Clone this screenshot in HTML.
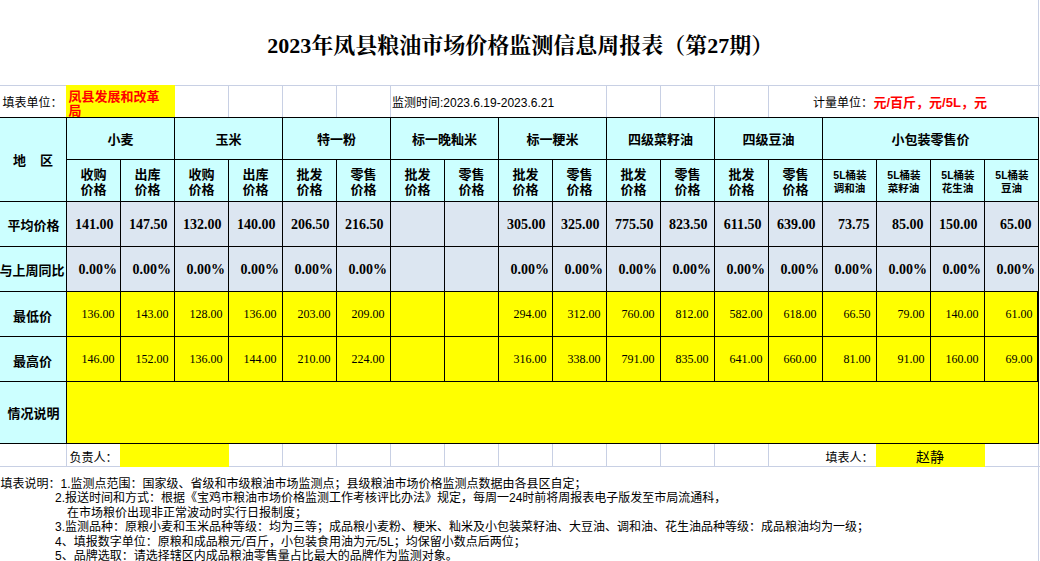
<!DOCTYPE html>
<html lang="zh-CN"><head><meta charset="utf-8"><title>2023年凤县粮油市场价格监测信息周报表</title><style>
html,body{margin:0;padding:0;background:#fff}
html{width:1040px;height:561px;overflow:hidden}
body{width:1040px;height:561px;position:relative;overflow:hidden;font-family:"Liberation Serif",serif;color:#000}
.r{position:absolute}
.n{position:absolute;font-size:12px;line-height:14px;white-space:nowrap;text-align:right}
.n.b{font-size:14px;line-height:16px;font-weight:bold}
.t{position:absolute;white-space:nowrap;font-family:"Liberation Sans","Noto Sans CJK SC",sans-serif;font-size:12px;line-height:14px;color:#000}
.t.b{font-weight:bold;font-size:13px}
.t.s{font-weight:bold;font-size:10.5px;line-height:12px}
.t.c{text-align:center}
.t.red{color:#f00}
.t.title{font-family:"Liberation Serif","Noto Serif CJK SC",serif;font-weight:bold;font-size:22px;line-height:24px;text-align:center}
</style></head><body>
<div class="r" style="left:0px;top:118px;width:1038px;height:83px;background:#ccffff"></div>
<div class="r" style="left:0px;top:201px;width:66px;height:242px;background:#ccffff"></div>
<div class="r" style="left:67px;top:202px;width:971px;height:89px;background:#dce6f1"></div>
<div class="r" style="left:67px;top:292px;width:971px;height:151px;background:#ffff00"></div>
<div class="r" style="left:0px;top:85px;width:1040px;height:1px;background:#c8d0e4"></div>
<div class="r" style="left:0px;top:466px;width:1040px;height:1px;background:#c8d0e4"></div>
<div class="r" style="left:1038px;top:0px;width:1px;height:117px;background:#c8d0e4"></div>
<div class="r" style="left:1038px;top:444px;width:1px;height:117px;background:#c8d0e4"></div>
<div class="r" style="left:228px;top:86px;width:1px;height:31px;background:#c8d0e4"></div>
<div class="r" style="left:282px;top:86px;width:1px;height:31px;background:#c8d0e4"></div>
<div class="r" style="left:336px;top:86px;width:1px;height:31px;background:#c8d0e4"></div>
<div class="r" style="left:390px;top:86px;width:1px;height:31px;background:#c8d0e4"></div>
<div class="r" style="left:606px;top:86px;width:1px;height:31px;background:#c8d0e4"></div>
<div class="r" style="left:660px;top:86px;width:1px;height:31px;background:#c8d0e4"></div>
<div class="r" style="left:714px;top:86px;width:1px;height:31px;background:#c8d0e4"></div>
<div class="r" style="left:768px;top:86px;width:1px;height:31px;background:#c8d0e4"></div>
<div class="r" style="left:66px;top:444px;width:1px;height:22px;background:#c8d0e4"></div>
<div class="r" style="left:282px;top:444px;width:1px;height:22px;background:#c8d0e4"></div>
<div class="r" style="left:336px;top:444px;width:1px;height:22px;background:#c8d0e4"></div>
<div class="r" style="left:390px;top:444px;width:1px;height:22px;background:#c8d0e4"></div>
<div class="r" style="left:444px;top:444px;width:1px;height:22px;background:#c8d0e4"></div>
<div class="r" style="left:498px;top:444px;width:1px;height:22px;background:#c8d0e4"></div>
<div class="r" style="left:552px;top:444px;width:1px;height:22px;background:#c8d0e4"></div>
<div class="r" style="left:606px;top:444px;width:1px;height:22px;background:#c8d0e4"></div>
<div class="r" style="left:660px;top:444px;width:1px;height:22px;background:#c8d0e4"></div>
<div class="r" style="left:714px;top:444px;width:1px;height:22px;background:#c8d0e4"></div>
<div class="r" style="left:768px;top:444px;width:1px;height:22px;background:#c8d0e4"></div>
<div class="r" style="left:66px;top:85px;width:109px;height:32px;background:#ffff00"></div>
<div class="r" style="left:120px;top:444px;width:109px;height:23px;background:#ffff00"></div>
<div class="r" style="left:876px;top:444px;width:109px;height:23px;background:#ffff00"></div>
<div class="r" style="left:0px;top:117px;width:1039px;height:1px;background:#000"></div>
<div class="r" style="left:0px;top:201px;width:1039px;height:1px;background:#000"></div>
<div class="r" style="left:0px;top:246px;width:1039px;height:1px;background:#000"></div>
<div class="r" style="left:0px;top:291px;width:1039px;height:1px;background:#000"></div>
<div class="r" style="left:0px;top:336px;width:1039px;height:1px;background:#000"></div>
<div class="r" style="left:0px;top:381px;width:1039px;height:1px;background:#000"></div>
<div class="r" style="left:0px;top:443px;width:1039px;height:1px;background:#000"></div>
<div class="r" style="left:66px;top:159px;width:973px;height:1px;background:#000"></div>
<div class="r" style="left:66px;top:117px;width:1px;height:327px;background:#000"></div>
<div class="r" style="left:1038px;top:117px;width:1px;height:327px;background:#000"></div>
<div class="r" style="left:1037px;top:292px;width:1px;height:89px;background:#000"></div>
<div class="r" style="left:120px;top:159px;width:1px;height:223px;background:#000"></div>
<div class="r" style="left:174px;top:117px;width:1px;height:265px;background:#000"></div>
<div class="r" style="left:228px;top:159px;width:1px;height:223px;background:#000"></div>
<div class="r" style="left:282px;top:117px;width:1px;height:265px;background:#000"></div>
<div class="r" style="left:336px;top:159px;width:1px;height:223px;background:#000"></div>
<div class="r" style="left:390px;top:117px;width:1px;height:265px;background:#000"></div>
<div class="r" style="left:444px;top:159px;width:1px;height:223px;background:#000"></div>
<div class="r" style="left:498px;top:117px;width:1px;height:265px;background:#000"></div>
<div class="r" style="left:552px;top:159px;width:1px;height:223px;background:#000"></div>
<div class="r" style="left:606px;top:117px;width:1px;height:265px;background:#000"></div>
<div class="r" style="left:660px;top:159px;width:1px;height:223px;background:#000"></div>
<div class="r" style="left:714px;top:117px;width:1px;height:265px;background:#000"></div>
<div class="r" style="left:768px;top:159px;width:1px;height:223px;background:#000"></div>
<div class="r" style="left:822px;top:117px;width:1px;height:265px;background:#000"></div>
<div class="r" style="left:876px;top:159px;width:1px;height:223px;background:#000"></div>
<div class="r" style="left:930px;top:159px;width:1px;height:223px;background:#000"></div>
<div class="r" style="left:984px;top:159px;width:1px;height:223px;background:#000"></div>
<div class="t title" style="left:254.3px;top:33.8px;width:532.1px">2023年凤县粮油市场价格监测信息周报表（第27期）</div>
<div class="t" style="left:2.5px;top:96px">填表单位：</div>
<div class="t b red" style="left:68.5px;top:89.5px">凤县发展和改革</div>
<div class="t b red" style="left:68.5px;top:104px">局</div>
<div class="t" style="left:392px;top:96px">监测时间:2023.6.19-2023.6.21</div>
<div class="t" style="left:813px;top:96px">计量单位：</div>
<div class="t b red" style="left:873.5px;top:96px">元/百斤，元/5L，元</div>
<div class="t b" style="left:13px;top:154px">地</div>
<div class="t b" style="left:40px;top:154px">区</div>
<div class="t b c" style="left:107px;top:133px;width:27px">小麦</div>
<div class="t b c" style="left:215px;top:133px;width:27px">玉米</div>
<div class="t b c" style="left:316.5px;top:133px;width:40px">特一粉</div>
<div class="t b c" style="left:411.5px;top:133px;width:66px">标一晚籼米</div>
<div class="t b c" style="left:526px;top:133px;width:53px">标一粳米</div>
<div class="t b c" style="left:627.5px;top:133px;width:66px">四级菜籽油</div>
<div class="t b c" style="left:742px;top:133px;width:53px">四级豆油</div>
<div class="t b c" style="left:891px;top:133px;width:79px">小包装零售价</div>
<div class="t b c" style="left:80px;top:168px;width:27px">收购</div>
<div class="t b c" style="left:80px;top:182.5px;width:27px">价格</div>
<div class="t b c" style="left:134px;top:168px;width:27px">出库</div>
<div class="t b c" style="left:134px;top:182.5px;width:27px">价格</div>
<div class="t b c" style="left:188px;top:168px;width:27px">收购</div>
<div class="t b c" style="left:188px;top:182.5px;width:27px">价格</div>
<div class="t b c" style="left:242px;top:168px;width:27px">出库</div>
<div class="t b c" style="left:242px;top:182.5px;width:27px">价格</div>
<div class="t b c" style="left:296px;top:168px;width:27px">批发</div>
<div class="t b c" style="left:296px;top:182.5px;width:27px">价格</div>
<div class="t b c" style="left:350px;top:168px;width:27px">零售</div>
<div class="t b c" style="left:350px;top:182.5px;width:27px">价格</div>
<div class="t b c" style="left:404px;top:168px;width:27px">批发</div>
<div class="t b c" style="left:404px;top:182.5px;width:27px">价格</div>
<div class="t b c" style="left:458px;top:168px;width:27px">零售</div>
<div class="t b c" style="left:458px;top:182.5px;width:27px">价格</div>
<div class="t b c" style="left:512px;top:168px;width:27px">批发</div>
<div class="t b c" style="left:512px;top:182.5px;width:27px">价格</div>
<div class="t b c" style="left:566px;top:168px;width:27px">零售</div>
<div class="t b c" style="left:566px;top:182.5px;width:27px">价格</div>
<div class="t b c" style="left:620px;top:168px;width:27px">批发</div>
<div class="t b c" style="left:620px;top:182.5px;width:27px">价格</div>
<div class="t b c" style="left:674px;top:168px;width:27px">零售</div>
<div class="t b c" style="left:674px;top:182.5px;width:27px">价格</div>
<div class="t b c" style="left:728px;top:168px;width:27px">批发</div>
<div class="t b c" style="left:728px;top:182.5px;width:27px">价格</div>
<div class="t b c" style="left:782px;top:168px;width:27px">零售</div>
<div class="t b c" style="left:782px;top:182.5px;width:27px">价格</div>
<div class="t s c" style="left:832.5px;top:169px;width:35px">5L桶装</div>
<div class="t s c" style="left:832.5px;top:182px;width:34px">调和油</div>
<div class="t s c" style="left:886.5px;top:169px;width:35px">5L桶装</div>
<div class="t s c" style="left:886.5px;top:182px;width:34px">菜籽油</div>
<div class="t s c" style="left:940.5px;top:169px;width:35px">5L桶装</div>
<div class="t s c" style="left:940.5px;top:182px;width:34px">花生油</div>
<div class="t s c" style="left:994.5px;top:169px;width:35px">5L桶装</div>
<div class="t s c" style="left:1000px;top:182px;width:23px">豆油</div>
<div class="t b c" style="left:7px;top:219px;width:53px">平均价格</div>
<div class="t b c" style="left:-1px;top:264px;width:66px">与上周同比</div>
<div class="t b c" style="left:12.5px;top:309.5px;width:40px">最低价</div>
<div class="t b c" style="left:12.5px;top:354.5px;width:40px">最高价</div>
<div class="t b c" style="left:7px;top:406.5px;width:53px">情况说明</div>
<div class="n b" style="right:926.5px;top:217.28px">141.00</div>
<div class="n b" style="right:923px;top:262.27px">0.00%</div>
<div class="n" style="right:925.5px;top:306.95px">136.00</div>
<div class="n" style="right:925.5px;top:351.95px">146.00</div>
<div class="n b" style="right:872.5px;top:217.28px">147.50</div>
<div class="n b" style="right:869px;top:262.27px">0.00%</div>
<div class="n" style="right:871.5px;top:306.95px">143.00</div>
<div class="n" style="right:871.5px;top:351.95px">152.00</div>
<div class="n b" style="right:818.5px;top:217.28px">132.00</div>
<div class="n b" style="right:815px;top:262.27px">0.00%</div>
<div class="n" style="right:817.5px;top:306.95px">128.00</div>
<div class="n" style="right:817.5px;top:351.95px">136.00</div>
<div class="n b" style="right:764.5px;top:217.28px">140.00</div>
<div class="n b" style="right:761px;top:262.27px">0.00%</div>
<div class="n" style="right:763.5px;top:306.95px">136.00</div>
<div class="n" style="right:763.5px;top:351.95px">144.00</div>
<div class="n b" style="right:710.5px;top:217.28px">206.50</div>
<div class="n b" style="right:707px;top:262.27px">0.00%</div>
<div class="n" style="right:709.5px;top:306.95px">203.00</div>
<div class="n" style="right:709.5px;top:351.95px">210.00</div>
<div class="n b" style="right:656.5px;top:217.28px">216.50</div>
<div class="n b" style="right:653px;top:262.27px">0.00%</div>
<div class="n" style="right:655.5px;top:306.95px">209.00</div>
<div class="n" style="right:655.5px;top:351.95px">224.00</div>
<div class="n b" style="right:494.5px;top:217.28px">305.00</div>
<div class="n b" style="right:491px;top:262.27px">0.00%</div>
<div class="n" style="right:493.5px;top:306.95px">294.00</div>
<div class="n" style="right:493.5px;top:351.95px">316.00</div>
<div class="n b" style="right:440.5px;top:217.28px">325.00</div>
<div class="n b" style="right:437px;top:262.27px">0.00%</div>
<div class="n" style="right:439.5px;top:306.95px">312.00</div>
<div class="n" style="right:439.5px;top:351.95px">338.00</div>
<div class="n b" style="right:386.5px;top:217.28px">775.50</div>
<div class="n b" style="right:383px;top:262.27px">0.00%</div>
<div class="n" style="right:385.5px;top:306.95px">760.00</div>
<div class="n" style="right:385.5px;top:351.95px">791.00</div>
<div class="n b" style="right:332.5px;top:217.28px">823.50</div>
<div class="n b" style="right:329px;top:262.27px">0.00%</div>
<div class="n" style="right:331.5px;top:306.95px">812.00</div>
<div class="n" style="right:331.5px;top:351.95px">835.00</div>
<div class="n b" style="right:278.5px;top:217.28px">611.50</div>
<div class="n b" style="right:275px;top:262.27px">0.00%</div>
<div class="n" style="right:277.5px;top:306.95px">582.00</div>
<div class="n" style="right:277.5px;top:351.95px">641.00</div>
<div class="n b" style="right:224.5px;top:217.28px">639.00</div>
<div class="n b" style="right:221px;top:262.27px">0.00%</div>
<div class="n" style="right:223.5px;top:306.95px">618.00</div>
<div class="n" style="right:223.5px;top:351.95px">660.00</div>
<div class="n b" style="right:170.5px;top:217.28px">73.75</div>
<div class="n b" style="right:167px;top:262.27px">0.00%</div>
<div class="n" style="right:169.5px;top:306.95px">66.50</div>
<div class="n" style="right:169.5px;top:351.95px">81.00</div>
<div class="n b" style="right:116.5px;top:217.28px">85.00</div>
<div class="n b" style="right:113px;top:262.27px">0.00%</div>
<div class="n" style="right:115.5px;top:306.95px">79.00</div>
<div class="n" style="right:115.5px;top:351.95px">91.00</div>
<div class="n b" style="right:62.5px;top:217.28px">150.00</div>
<div class="n b" style="right:59px;top:262.27px">0.00%</div>
<div class="n" style="right:61.5px;top:306.95px">140.00</div>
<div class="n" style="right:61.5px;top:351.95px">160.00</div>
<div class="n b" style="right:8.5px;top:217.28px">65.00</div>
<div class="n b" style="right:5px;top:262.27px">0.00%</div>
<div class="n" style="right:7.5px;top:306.95px">61.00</div>
<div class="n" style="right:7.5px;top:351.95px">69.00</div>
<div class="t" style="left:69.5px;top:450.5px">负责人：</div>
<div class="t" style="left:825.5px;top:450.5px">填表人：</div>
<div class="t" style="left:916px;top:449px;font-size:14px;line-height:16px">赵静</div>
<div class="t" style="left:0.5px;top:477px">填表说明：1.监测点范围：国家级、省级和市级粮油市场监测点；县级粮油市场价格监测点数据由各县区自定；</div>
<div class="t" style="left:55px;top:491.45px">2.报送时间和方式：根据《宝鸡市粮油市场价格监测工作考核评比办法》规定，每周一24时前将周报表电子版发至市局流通科，</div>
<div class="t" style="left:67px;top:505.9px">在市场粮价出现非正常波动时实行日报制度；</div>
<div class="t" style="left:55px;top:520.35px">3.监测品种：原粮小麦和玉米品种等级：均为三等；成品粮小麦粉、粳米、籼米及小包装菜籽油、大豆油、调和油、花生油品种等级：成品粮油均为一级；</div>
<div class="t" style="left:55px;top:534.8px">4、填报数字单位：原粮和成品粮元/百斤，小包装食用油为元/5L；均保留小数点后两位；</div>
<div class="t" style="left:55px;top:549.25px">5、品牌选取：请选择辖区内成品粮油零售量占比最大的品牌作为监测对象。</div>
</body></html>
